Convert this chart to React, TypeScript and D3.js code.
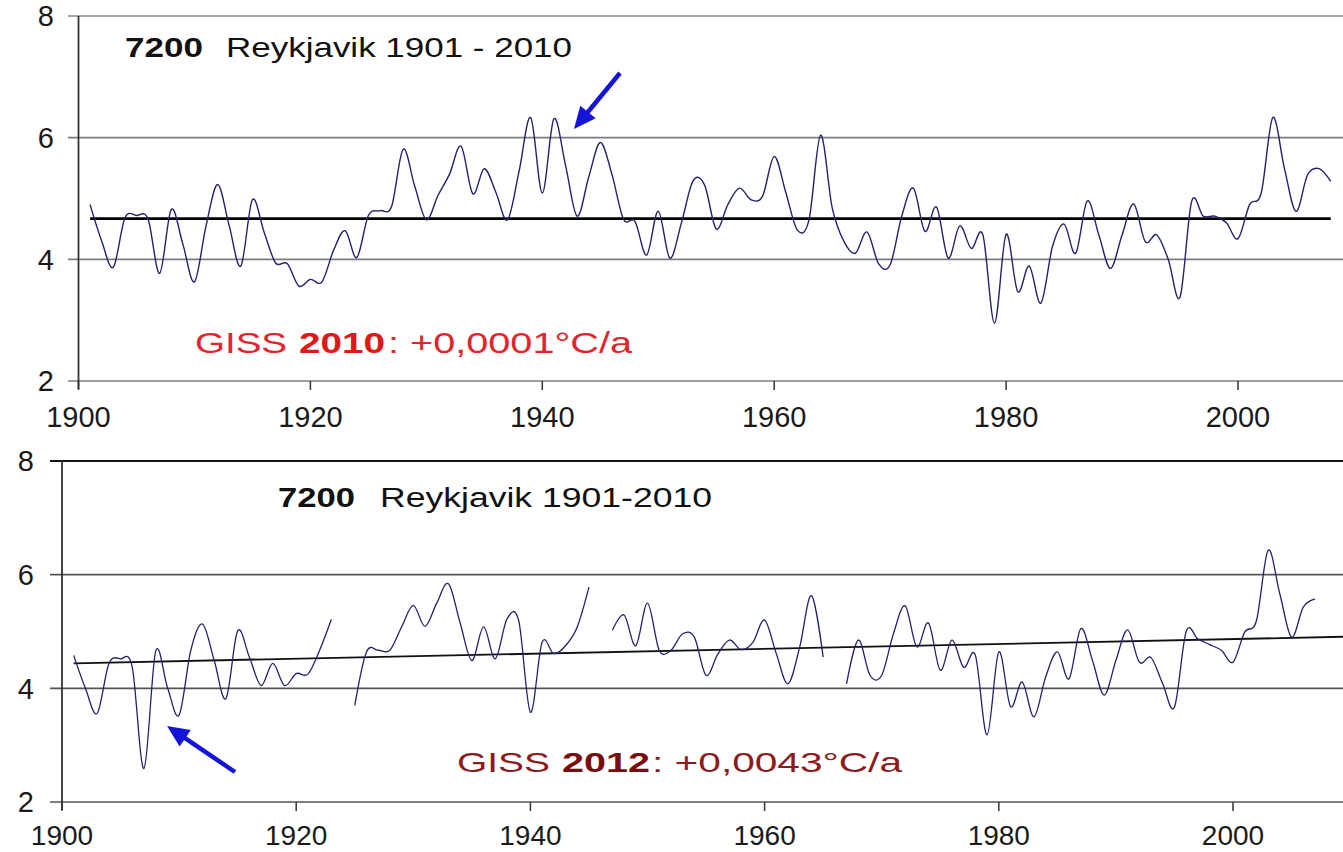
import React from "react";
import * as d3 from "d3";

// ---------- DATA ----------
const topYears = d3.range(1901, 2009);
const topValues = [
  4.90, 4.30, 3.87, 4.68, 4.72, 4.66, 3.77, 4.82, 4.25, 3.63,
  4.55, 5.23, 4.55, 3.89, 4.98, 4.45, 3.94, 3.93, 3.56, 3.67,
  3.63, 4.15, 4.47, 4.03, 4.72, 4.80, 4.87, 5.81, 5.20, 4.65,
  5.05, 5.40, 5.86, 5.08, 5.49, 5.10, 4.65, 5.45, 6.33, 5.09,
  6.31, 5.55, 4.71, 5.35, 5.92, 5.40, 4.66, 4.62, 4.07, 4.79,
  4.02, 4.60, 5.29, 5.22, 4.50, 4.90, 5.17, 4.98, 5.04, 5.69,
  5.10, 4.48, 4.65, 6.04, 4.85, 4.30, 4.10, 4.45, 3.93, 3.91,
  4.71, 5.17, 4.46, 4.86, 4.02, 4.55, 4.18, 4.40, 2.95, 4.41,
  3.47, 3.89, 3.28, 4.21, 4.58, 4.10, 4.96, 4.40, 3.85, 4.40,
  4.91, 4.29, 4.40, 3.99, 3.38, 4.95, 4.71, 4.71, 4.60, 4.34,
  4.90, 5.09, 6.33, 5.50, 4.79, 5.39, 5.49, 5.28,
];
const topMean = { from: 1901, to: 2008, value: 4.67 };

const bottomYears = d3.range(1901, 2008);
const bottomValues: (number | null)[] = [
  4.58, 4.00, 3.56, 4.43, 4.52, 4.37, 2.59, 4.65, 4.02, 3.53,
  4.67, 5.13, 4.49, 3.82, 5.01, 4.55, 4.05, 4.44, 4.05, 4.26,
  4.25, 4.67, 5.21, null, 3.70, 4.64, 4.67, 4.67, 5.08, 5.46,
  5.09, 5.50, 5.84, 5.15, 4.49, 5.08, 4.52, 5.22, 5.19, 3.58,
  4.81, 4.61, 4.75, 5.08, 5.78, null, 5.02, 5.29, 4.75, 5.50,
  4.67, 4.67, 4.96, 4.90, 4.23, 4.60, 4.85, 4.68, 4.81, 5.20,
  4.61, 4.08, 4.73, 5.63, 4.55, null, 4.08, 4.85, 4.23, 4.23,
  4.96, 5.45, 4.73, 5.15, 4.32, 4.85, 4.37, 4.58, 3.18, 4.64,
  3.68, 4.11, 3.50, 4.20, 4.64, 4.17, 5.05, 4.49, 3.88, 4.49,
  5.03, 4.46, 4.54, 4.08, 3.67, 5.00, 4.87, 4.77, 4.67, 4.46,
  4.99, 5.19, 6.43, 5.66, 4.90, 5.43, 5.57,
];
const bottomTrend = [
  { year: 1901, value: 4.44 },
  { year: 2010, value: 4.91 },
];

const xTicks = [1900, 1920, 1940, 1960, 1980, 2000];
const yTicks = [2, 4, 6, 8];

const FONT = "'Liberation Sans', Arial, Helvetica, sans-serif";
const LINE_COLOR = "#22226e";

type Seg = { text: string; x: number; len: number; bold?: boolean; fill: string };

function Arrow({ tail, tip }: { tail: [number, number]; tip: [number, number] }) {
  const dx = tip[0] - tail[0];
  const dy = tip[1] - tail[1];
  const L = Math.hypot(dx, dy);
  const ux = dx / L, uy = dy / L;
  const hl = 22, hw = 10;
  const bx = tip[0] - ux * hl, by = tip[1] - uy * hl;
  const px = -uy, py = ux;
  const pts = [
    [tip[0], tip[1]],
    [bx + px * hw, by + py * hw],
    [bx - px * hw, by - py * hw],
  ].map((p) => p.join(",")).join(" ");
  return (
    <g>
      <line x1={tail[0]} y1={tail[1]} x2={bx + ux * 2} y2={by + uy * 2} stroke="#1414d8" strokeWidth={4.5} />
      <polygon points={pts} fill="#1414d8" />
    </g>
  );
}

function Panel(props: {
  x0: number; x1: number; y0: number; y1: number;
  axisX: number; tickLeft: number; yLabelX: number; xLabelY: number; xLabelSize: number;
  gridColor: string; topColor: string; topWidth: number;
  children: (x: d3.ScaleLinear<number, number>, y: d3.ScaleLinear<number, number>) => React.ReactNode;
}) {
  const x = d3.scaleLinear().domain([1900, 2000]).range([props.x0, props.x1]);
  const y = d3.scaleLinear().domain([2, 8]).range([props.y0, props.y1]);
  return (
    <g>
      {yTicks.map((t) => (
        <g key={t}>
          <line
            x1={props.tickLeft} x2={1343} y1={y(t)} y2={y(t)}
            stroke={t === 8 ? props.topColor : props.gridColor}
            strokeWidth={t === 8 ? props.topWidth : 1.6}
          />
          <text x={props.yLabelX} y={y(t)} dy="0.36em" textAnchor="end"
            fontFamily={FONT} fontSize={29} fill="#1a1a1a">{t}</text>
        </g>
      ))}
      <line x1={props.axisX} x2={props.axisX} y1={y(8)} y2={y(2) + 8} stroke="#333" strokeWidth={1.8} />
      {xTicks.map((t) => (
        <g key={t}>
          <line x1={x(t)} x2={x(t)} y1={y(2)} y2={y(2) + 9} stroke="#333" strokeWidth={1.5} />
          <text x={x(t)} y={props.xLabelY} textAnchor="middle"
            fontFamily={FONT} fontSize={props.xLabelSize} fill="#1a1a1a">{t}</text>
        </g>
      ))}
      {props.children(x, y)}
    </g>
  );
}

function Label({ segs, y, size }: { segs: Seg[]; y: number; size: number }) {
  return (
    <g>
      {segs.map((s, i) => (
        <text key={i} x={s.x} y={y} textLength={s.len} lengthAdjust="spacingAndGlyphs"
          fontFamily={FONT} fontSize={size} fontWeight={s.bold ? "bold" : "normal"} fill={s.fill}
          style={{ whiteSpace: "pre" }}>
          {s.text}
        </text>
      ))}
    </g>
  );
}

export default function App() {
  const topData = topYears.map((yr, i) => ({ year: yr, value: topValues[i] }));
  const bottomData = bottomYears.map((yr, i) => ({ year: yr, value: bottomValues[i] }));

  return (
    <svg width={1343} height={852} viewBox="0 0 1343 852"
      style={{ position: "absolute", left: 0, top: 0, background: "#fff" }}>
      <rect x={0} y={0} width={1343} height={852} fill="#fff" />
      {/* TOP PANEL */}
      <Panel x0={78.5} x1={1238} y0={381} y1={16} axisX={78.5} tickLeft={68} yLabelX={54}
        xLabelY={427} xLabelSize={29} gridColor="#7d7d7d" topColor="#8a8a8a" topWidth={1.6}>
        {(x, y) => {
          const line = d3.line<{ year: number; value: number }>()
            .x((d) => x(d.year)).y((d) => y(d.value))
            .curve(d3.curveCardinal.tension(0));
          return (
            <g>
              <line x1={x(topMean.from)} x2={x(topMean.to)} y1={y(topMean.value)} y2={y(topMean.value)}
                stroke="#000" strokeWidth={2.6} />
              <path d={line(topData) || ""} fill="none" stroke={LINE_COLOR} strokeWidth={1.4} />
            </g>
          );
        }}
      </Panel>
      <Label y={57} size={28} segs={[
        { text: "7200", x: 125, len: 78, bold: true, fill: "#111" },
        { text: "Reykjavik 1901 - 2010", x: 226, len: 346, fill: "#111" },
      ]} />
      <Label y={353} size={30} segs={[
        { text: "GISS", x: 195, len: 92, fill: "#e3242b" },
        { text: "2010", x: 299, len: 86, bold: true, fill: "#e01818" },
        { text: ": +0,0001°C/a", x: 388, len: 244, fill: "#e3242b" },
      ]} />
      <Arrow tail={[620, 73]} tip={[574, 129]} />

      {/* BOTTOM PANEL */}
      <Panel x0={62} x1={1233} y0={802} y1={461} axisX={62} tickLeft={50} yLabelX={34}
        xLabelY={845} xLabelSize={28} gridColor="#555" topColor="#111" topWidth={2}>
        {(x, y) => {
          const line = d3.line<{ year: number; value: number | null }>()
            .defined((d) => d.value != null)
            .x((d) => x(d.year)).y((d) => y(d.value as number))
            .curve(d3.curveCardinal.tension(0));
          const trend = d3.line<{ year: number; value: number }>()
            .x((d) => x(d.year)).y((d) => y(d.value));
          return (
            <g>
              <path d={trend(bottomTrend) || ""} fill="none" stroke="#111" strokeWidth={1.8} />
              <path d={line(bottomData) || ""} fill="none" stroke={LINE_COLOR} strokeWidth={1.3} />
            </g>
          );
        }}
      </Panel>
      <Label y={507} size={27} segs={[
        { text: "7200", x: 278, len: 77, bold: true, fill: "#111" },
        { text: "Reykjavik 1901-2010", x: 380, len: 332, fill: "#111" },
      ]} />
      <Label y={772} size={28} segs={[
        { text: "GISS", x: 457, len: 93, fill: "#8e1b1b" },
        { text: "2012", x: 562, len: 88, bold: true, fill: "#7a0c0c" },
        { text: ": +0,0043°C/a", x: 652, len: 250, fill: "#8e1b1b" },
      ]} />
      <Arrow tail={[235, 772]} tip={[167, 726]} />
    </svg>
  );
}
